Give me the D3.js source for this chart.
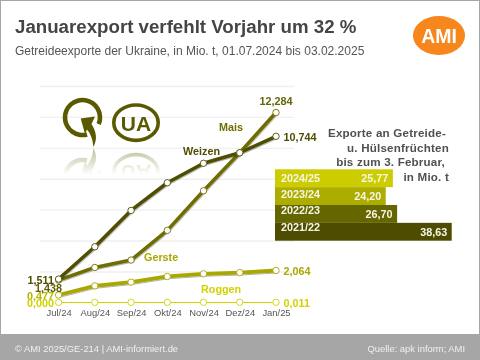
<!DOCTYPE html>
<html lang="de">
<head>
<meta charset="utf-8">
<style>
html,body{margin:0;padding:0;background:#fff;overflow:hidden}
svg{display:block;filter:blur(0.35px)}
text{font-family:"Liberation Sans",Arial,sans-serif}
</style>
<script src="https://cdn.jsdelivr.net/npm/d3@7"></script>
</head>
<body>
<script>
const months = ["Jul/24","Aug/24","Sep/24","Okt/24","Nov/24","Dez/24","Jan/25"];
const weizen = [1.511,3.6,5.95,7.74,9.0,9.68,10.744];
const mais   = [1.438,2.26,2.74,4.66,7.22,9.68,12.284];
const gerste = [0.477,1.07,1.31,1.68,1.85,1.93,2.064];
const roggen = [0.000,0.003,0.005,0.007,0.009,0.010,0.011];
const gridTicks = [2,4,6,8,10,12,14];
const seasons = ["2024/25","2023/24","2022/23","2021/22"];
const seasonValues = [25.77,24.20,26.70,38.63];

const W = 480, H = 360;
const svg = d3.select("body").append("svg").attr("width",W).attr("height",H);
const defs = svg.append("defs");

const shadow = defs.append("filter").attr("id","sh").attr("x","-10%").attr("y","-10%").attr("width","120%").attr("height","130%");
shadow.append("feDropShadow").attr("dx",0.6).attr("dy",1).attr("stdDeviation",0.7).attr("flood-color","#000").attr("flood-opacity",0.3);

const fade = defs.append("linearGradient").attr("id","fade").attr("x1",0).attr("x2",0).attr("y1",0).attr("y2",1);
fade.append("stop").attr("offset","0%").attr("stop-color","#fff").attr("stop-opacity",0.4);
fade.append("stop").attr("offset","100%").attr("stop-color","#fff").attr("stop-opacity",0);
defs.append("mask").attr("id","fadeMask").attr("maskUnits","userSpaceOnUse")
  .attr("x",50).attr("y",147).attr("width",130).attr("height",28)
  .append("rect").attr("x",50).attr("y",147).attr("width",130).attr("height",28).attr("fill","url(#fade)");

// frame + footer
svg.append("rect").attr("x",0.5).attr("y",0.5).attr("width",W-1).attr("height",H-1).attr("fill","#fff").attr("stroke","#a6a6a6");
svg.append("rect").attr("x",0).attr("y",334).attr("width",W).attr("height",26).attr("fill","#a6a6a6");
svg.append("text").attr("x",15).attr("y",351.5).attr("font-size",9.4).attr("fill","#f0f0f0").text("© AMI 2025/GE-214 | AMI-informiert.de");
svg.append("text").attr("x",465).attr("y",351.5).attr("text-anchor","end").attr("font-size",9.4).attr("fill","#f0f0f0").text("Quelle: apk inform; AMI");

// titles
svg.append("text").attr("x",15).attr("y",33).attr("font-size",18.7).attr("font-weight","bold").attr("fill","#454545").text("Januarexport verfehlt Vorjahr um 32 %");
svg.append("text").attr("x",15).attr("y",55).attr("font-size",12.03).attr("fill","#555").text("Getreideexporte der Ukraine, in Mio. t, 01.07.2024 bis 03.02.2025");

// logo
svg.append("ellipse").attr("cx",439).attr("cy",35.5).attr("rx",26).attr("ry",19.5).attr("fill","#f7861c");
svg.append("text").attr("x",439).attr("y",42.5).attr("text-anchor","middle").attr("font-size",19.5).attr("font-weight","bold").attr("fill","#fff").text("AMI");

// scales
const x = d3.scalePoint().domain(months).range([58.6,276]);
const y = d3.scaleLinear().domain([0,14]).range([302.4,86]);

// grid
const grid = svg.append("g").attr("transform","translate(40,0)")
  .call(d3.axisLeft(y).tickValues(gridTicks).tickSize(-254).tickFormat(""));
grid.select(".domain").remove();
grid.selectAll("line").attr("stroke","#efefef").attr("stroke-width",1.4);

// icon
function icon(g){
  const col = "#5a5900";
  const arc = d3.arc().innerRadius(15.2).outerRadius(19.8)
    .startAngle(165*Math.PI/180).endAngle((360+112)*Math.PI/180);
  g.append("path").attr("transform","translate(82.5,117.5)").attr("d",arc()).attr("fill",col);
  g.append("path").attr("fill",col)
   .attr("d","M80.7,118.5 L95,116.5 L91.5,124 C96,131 98,139 93.3,147 C93,139 90,133 87,129.5 L85,134 Z");
  g.append("ellipse").attr("cx",136).attr("cy",122.7).attr("rx",22.2).attr("ry",17.7).attr("fill","none").attr("stroke",col).attr("stroke-width",3.6);
  g.append("text").attr("x",136).attr("y",130.5).attr("text-anchor","middle").attr("font-size",21).attr("font-weight","bold").attr("fill",col).text("UA");
}
icon(svg.append("g"));
const reflWrap = svg.append("g").attr("mask","url(#fadeMask)");
icon(reflWrap.append("g").attr("transform","translate(0,295) scale(1,-1)"));

// lines
const line = d3.line().x((d,i)=>x(months[i])).y(d=>y(d));
const series = [
  {v:roggen,c:"#d2d200",w:2.6},
  {v:gerste,c:"#a8a800",w:3.8},
  {v:mais,c:"#6e6e00",w:3.5},
  {v:weizen,c:"#4f4e00",w:3.5}
];
series.forEach(s=>{
  svg.append("path").attr("d",line(s.v)).attr("fill","none").attr("stroke",s.c).attr("stroke-width",s.w)
    .attr("stroke-linejoin","round").attr("filter","url(#sh)");
});
series.forEach(s=>{
  svg.append("g").selectAll("circle").data(s.v).join("circle")
    .attr("cx",(d,i)=>x(months[i])).attr("cy",d=>y(d)).attr("r",3.2)
    .attr("fill","#fff").attr("stroke",s.c).attr("stroke-width",0.9);
});

// x axis
const ax = svg.append("g").attr("transform","translate(0,304)")
  .call(d3.axisBottom(x).tickSize(0).tickPadding(5));
ax.select(".domain").remove();
ax.selectAll("text").attr("font-family",'"Liberation Sans",Arial,sans-serif').attr("font-size",9.4).attr("fill","#555");

// value labels
function lab(t,px,py,c,a){
  svg.append("text").attr("x",px).attr("y",py).attr("text-anchor",a||"start")
    .attr("font-size",10.8).attr("font-weight","bold").attr("fill",c).text(t);
}
lab("0,477",54,299.5,"#b5b500","end");
lab("0,000",54,307,"#d2d200","end");
lab("1,438",62,292,"#5f5e00","end");
lab("1,511",54,284,"#4f4e00","end");
lab("12,284",276,105,"#66660a","middle");
lab("10,744",283.5,141,"#4f4e00");
lab("2,064",283.5,275,"#a8a800");
lab("0,011",283.5,307,"#d2d200");
lab("Mais",219,131,"#6e6e00");
lab("Weizen",183,155,"#4f4e00");
lab("Gerste",144,261,"#a8a800");
lab("Roggen",201,293,"#d2d200");

// bars
const bx = d3.scaleLinear().domain([0,38.63]).range([275,451.7]);
const by = d3.scaleBand().domain(seasons).range([169.3,240.7]);
const barColors = ["#cccc00","#adad00","#666600","#4d4c00"];
const yearOffset = [0,-2,-3.6,-5];
svg.append("g").selectAll("rect").data(seasons).join("rect")
  .attr("x",bx(0)).attr("y",d=>by(d)).attr("height",by.bandwidth())
  .attr("width",(d,i)=>bx(seasonValues[i])-bx(0)).attr("fill",(d,i)=>barColors[i]);
svg.append("g").selectAll("text").data(seasons).join("text")
  .attr("x",281).attr("y",(d,i)=>by(d)+by.bandwidth()/2+3.9+yearOffset[i])
  .attr("font-size",10.8).attr("font-weight","bold").attr("fill","#f6f6e6").text(d=>d);
svg.append("g").selectAll("text").data(seasons).join("text")
  .attr("x",(d,i)=>bx(seasonValues[i])-4.5).attr("y",d=>by(d)+by.bandwidth()/2+3.9)
  .attr("text-anchor","end").attr("font-size",10.8).attr("font-weight","bold").attr("fill","#f6f6e6")
  .text((d,i)=>seasonValues[i].toFixed(2).replace(".",","));

// bar heading
[["Exporte an Getreide-",446,137],["u. Hülsenfrüchten",449,151.5],["bis zum 3. Februar,",445,166],["in Mio. t",449,180.5]].forEach(r=>{
  svg.append("text").attr("x",r[1]).attr("y",r[2]).attr("text-anchor","end")
    .attr("font-size",11.6).attr("letter-spacing",0.2).attr("font-weight","bold").attr("fill","#505050").text(r[0]);
});
</script>
</body>
</html>
